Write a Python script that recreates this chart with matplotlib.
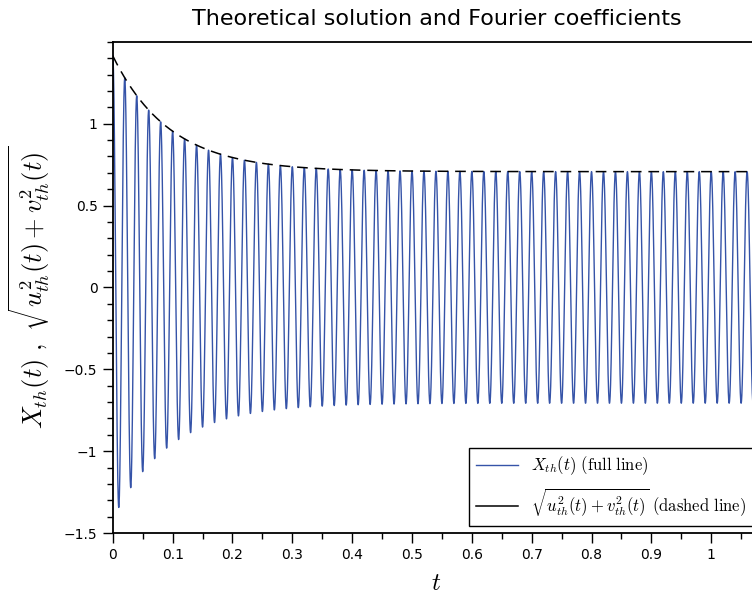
import numpy as np
import matplotlib
matplotlib.use("Agg")
import matplotlib.pyplot as plt
from matplotlib.ticker import MultipleLocator
from matplotlib.lines import Line2D

plt.rcParams['mathtext.fontset'] = 'cm'
plt.rcParams['font.family'] = ['DejaVu Sans']

# values
t_max = 1.082          # right end of the visible axis
freq = 50.0            # one oscillation every 0.02 in t
amp_start = 1.414      # envelope at t = 0
amp_end = 0.707        # envelope once settled
tau = 0.095            # decay time of the envelope

title = "Theoretical solution and Fourier coefficients"
label_x = r'$X_{th}(t)\ \mathrm{(full\ line)}$'
label_env = r'$\sqrt{u_{th}^2(t)+v_{th}^2(t)}\ \mathrm{(dashed\ line)}$'

t = np.linspace(0, t_max, 6000)
env = amp_end + (amp_start - amp_end) * np.exp(-t / tau)
X = env * np.cos(2 * np.pi * freq * t)

fig = plt.figure(figsize=(7.52, 6.01), dpi=100)
ax = fig.add_axes([0.150, 0.113, 0.861, 0.8175])

ax.plot(t, X, color='#3553a8', lw=1.0)
ax.plot(t, env, color='black', lw=1.1, dashes=(7, 4.5))

ax.set_xlim(0, t_max)
ax.set_ylim(-1.5, 1.5)
ax.xaxis.set_minor_locator(MultipleLocator(0.05))
ax.yaxis.set_minor_locator(MultipleLocator(0.1))
ax.set_xticks(np.arange(0, 1.05, 0.1))
ax.set_xticklabels(['0', '0.1', '0.2', '0.3', '0.4', '0.5', '0.6', '0.7', '0.8', '0.9', '1'])
ax.set_yticks([-1.5, -1, -0.5, 0, 0.5, 1])
ax.set_yticklabels(['\u22121.5', '\u22121', '\u22120.5', '0', '0.5', '1'])
ax.tick_params(which='major', direction='out', length=7, width=1, labelsize=10, pad=4)
ax.tick_params(which='minor', direction='out', length=4, width=1)
ax.tick_params(top=False, right=False)
ax.spines['right'].set_visible(False)
for s in ['left', 'bottom', 'top']:
    ax.spines[s].set_linewidth(1.3)

ax.set_xlabel(r'$t$', fontsize=18, labelpad=6)
ax.set_ylabel(r'$X_{th}(t)\ ,\ \sqrt{u_{th}^2(t)+v_{th}^2(t)}$', fontsize=19, labelpad=8)
ax.set_title(title, fontsize=16, pad=12)

# legend shows plain solid strokes for both curves
handles = [Line2D([], [], color='#3553a8', lw=1.0),
           Line2D([], [], color='black', lw=1.1)]
leg = ax.legend(handles, [label_x, label_env], loc='lower right', fontsize=12,
                handlelength=2.5, borderaxespad=0.45, fancybox=False, framealpha=1,
                edgecolor='black', labelspacing=0.55)
leg.get_frame().set_linewidth(1.0)

fig.savefig('out.png', dpi=100)
